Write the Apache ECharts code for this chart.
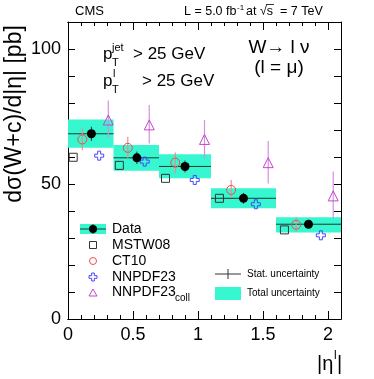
<!DOCTYPE html>
<html>
<head>
<meta charset="utf-8">
<script src="https://cdn.jsdelivr.net/npm/echarts@6/dist/echarts.min.js"></script>
<style>
  html, body { margin: 0; padding: 0; background: #fff; }
  #main { width: 374px; height: 379px; }
</style>
</head>
<body>
<div id="main"></div>
<script>
// |eta| bins
var binLo = [0, 0.35, 0.7, 1.1, 1.6];
var binHi = [0.35, 0.7, 1.1, 1.6, 2.1];
// data with stat and total uncertainty
var dataX = [0.18, 0.53, 0.90, 1.35, 1.85];
var dataY = [68.6, 59.7, 56.5, 44.7, 35.1];
var statErr = [2.6, 2.3, 2.2, 2.0, 1.6];
var totLo = [63.4, 54.9, 52.1, 41.0, 32.0];
var totHi = [73.9, 64.4, 61.0, 48.4, 37.7];
// predictions
var mstwX = [0.04, 0.395, 0.75, 1.165, 1.665];
var mstwY = [59.9, 56.9, 52.1, 44.7, 33.0];
var ct10X = [0.11, 0.46, 0.825, 1.255, 1.755];
var ct10Y = [66.5, 63.4, 57.9, 47.8, 34.9];
var ct10Lo = [62.6, 59.5, 54.0, 45.0, 32.3];
var ct10Hi = [70.6, 67.5, 61.7, 51.5, 37.7];
var nnX = [0.24, 0.59, 0.975, 1.445, 1.945];
var nnY = [60.5, 58.3, 51.5, 42.5, 31.0];
var collX = [0.31, 0.625, 1.05, 1.54, 2.04];
var collY = [73.7, 71.9, 66.5, 57.9, 45.6];
var collLo = [67.0, 65.0, 59.5, 50.2, 37.3];
var collHi = [80.9, 79.3, 73.7, 65.9, 54.6];
// tick labels
var xTicks = [0, 0.5, 1, 1.5, 2];
var yTicks = [0, 50, 100];

var FONT = 'Liberation Sans, Arial, Helvetica, sans-serif';
var TEAL = '#36f7cf';
var PLUS = 'path://M3,0L6,0L6,3L9,3L9,6L6,6L6,9L3,9L3,6L0,6L0,3L3,3Z';

function zip(a, b) {
    return a.map(function (v, i) { return [v, b[i]]; });
}

// plus outline as polygon points (legend)
function plusPts(cx, cy, s) {
    var a = s / 6, b = s / 2;
    return [[cx - a, cy - b], [cx + a, cy - b], [cx + a, cy - a], [cx + b, cy - a], [cx + b, cy + a], [cx + a, cy + a],
        [cx + a, cy + b], [cx - a, cy + b], [cx - a, cy + a], [cx - b, cy + a], [cx - b, cy - a], [cx - a, cy - a]];
}

// total uncertainty boxes
function renderBox(params, api) {
    var p1 = api.coord([api.value(0), api.value(3)]);
    var p2 = api.coord([api.value(1), api.value(2)]);
    return {
        type: 'rect',
        shape: { x: p1[0], y: p1[1], width: p2[0] - p1[0], height: p2[1] - p1[1] },
        style: { fill: TEAL }
    };
}

// stat error: horizontal across the bin + vertical
function renderStat(params, api) {
    var y = api.value(2);
    var a = api.coord([api.value(0), y]);
    var b = api.coord([api.value(1), y]);
    var c = api.coord([api.value(4), y + api.value(3)]);
    var d = api.coord([api.value(4), y - api.value(3)]);
    var st = { stroke: '#1a3a30', lineWidth: 1 };
    return {
        type: 'group',
        children: [
            { type: 'line', shape: { x1: a[0], y1: a[1], x2: b[0], y2: b[1] }, style: st },
            { type: 'line', shape: { x1: c[0], y1: c[1], x2: d[0], y2: d[1] }, style: st }
        ]
    };
}

function errBar(color) {
    return function (params, api) {
        var a = api.coord([api.value(0), api.value(1)]);
        var b = api.coord([api.value(0), api.value(2)]);
        return {
            type: 'line',
            shape: { x1: a[0], y1: a[1], x2: b[0], y2: b[1] },
            style: { stroke: color, lineWidth: 1.2 }
        };
    };
}

function txt(x, y, s, size, align) {
    return {
        type: 'text', x: x, y: y, z: 100,
        style: { text: s, font: size + 'px ' + FONT, fill: '#000', textAlign: align || 'left', textVerticalAlign: 'middle' }
    };
}

function axisX(pos, interval, len, showLabel) {
    return {
        type: 'value', position: pos, min: 0, max: 2.1, interval: interval,
        axisLine: { show: true, onZero: false, lineStyle: { color: '#000', width: 1 } },
        axisTick: { inside: true, length: len, lineStyle: { color: '#000' } },
        axisLabel: {
            show: showLabel, color: '#000', fontSize: 18, fontFamily: FONT, margin: 7,
            showMaxLabel: false,
            formatter: function (v) { return xTicks.indexOf(v) >= 0 ? String(v) : ''; }
        },
        splitLine: { show: false }
    };
}

function axisY(pos, showLabel) {
    return {
        type: 'value', position: pos, min: 0, max: 110, interval: 10,
        axisLine: { show: true, onZero: false, lineStyle: { color: '#000', width: 1 } },
        axisTick: { inside: true, length: 7, lineStyle: { color: '#000' } },
        axisLabel: {
            show: showLabel, color: '#000', fontSize: 18, fontFamily: FONT, margin: 7,
            formatter: function (v) { return yTicks.indexOf(v) >= 0 ? String(v) : ''; }
        },
        splitLine: { show: false }
    };
}

var myChart = echarts.init(document.getElementById('main'));

var boxData = binLo.map(function (v, i) { return [v, binHi[i], totLo[i], totHi[i]]; });
var statData = binLo.map(function (v, i) { return [v, binHi[i], dataY[i], statErr[i], dataX[i]]; });
var ct10Err = ct10X.map(function (v, i) { return [v, ct10Lo[i], ct10Hi[i]]; });
var collErr = collX.map(function (v, i) { return [v, collLo[i], collHi[i]]; });

var option = {
    animation: false,
    backgroundColor: '#fff',
    grid: { left: 68, right: 33, top: 22, bottom: 60 },
    xAxis: [
        axisX('bottom', 0.5, 8, true),
        axisX('bottom', 0.1, 4, false),
        axisX('top', 0.5, 8, false),
        axisX('top', 0.1, 4, false)
    ],
    yAxis: [axisY('left', true), axisY('right', false)],
    series: [
        { type: 'custom', renderItem: renderBox, data: boxData, clip: true, z: 1, encode: { x: [0, 1], y: [2, 3] } },
        { type: 'custom', renderItem: renderStat, data: statData, z: 2, encode: { x: [0, 1], y: 2 } },
        { type: 'custom', renderItem: errBar('#f08a8a'), data: ct10Err, z: 2, encode: { x: 0, y: [1, 2] } },
        { type: 'custom', renderItem: errBar('#d58fe0'), data: collErr, z: 2, encode: { x: 0, y: [1, 2] } },
        {
            name: 'MSTW08', type: 'scatter', data: zip(mstwX, mstwY), symbol: 'rect', symbolSize: 8, z: 3,
            itemStyle: { color: 'rgba(0,0,0,0)', borderColor: '#333', borderWidth: 1, opacity: 1 }
        },
        {
            name: 'CT10', type: 'scatter', data: zip(ct10X, ct10Y), symbol: 'circle', symbolSize: 9, z: 3,
            itemStyle: { color: 'rgba(0,0,0,0)', borderColor: '#ee4c4c', borderWidth: 1, opacity: 1 }
        },
        {
            name: 'NNPDF23', type: 'scatter', data: zip(nnX, nnY), symbol: PLUS, symbolSize: 9, z: 3,
            itemStyle: { color: 'rgba(0,0,0,0)', borderColor: '#4646ff', borderWidth: 1, opacity: 1 }
        },
        {
            name: 'NNPDF23coll', type: 'scatter', data: zip(collX, collY), symbol: 'triangle', symbolSize: 10, z: 3,
            itemStyle: { color: 'rgba(0,0,0,0)', borderColor: '#c844cc', borderWidth: 1, opacity: 1 }
        },
        {
            name: 'Data', type: 'scatter', data: zip(dataX, dataY), symbol: 'circle', symbolSize: 9, z: 4,
            itemStyle: { color: '#000', opacity: 1 }
        }
    ],
    graphic: [
        // header
        txt(75, 11, 'CMS', 13, 'left'),
        txt(184, 12, 'L = 5.0 fb', 12.5),
        txt(237, 8, '-1', 8),
        txt(246, 12, 'at', 12.5),
        txt(260, 12, '√s', 12.5),
        txt(280, 12, '= 7 TeV', 12.5),
        { type: 'line', z: 100, shape: { x1: 266, y1: 4.5, x2: 274, y2: 4.5 }, style: { stroke: '#000', lineWidth: 0.8 } },
        // kinematic cuts
        txt(103, 54, 'p', 17), txt(112, 48, 'jet', 11), txt(112, 63, 'T', 11), txt(133, 54, '> 25 GeV', 17),
        txt(103, 81, 'p', 17), txt(113, 74, 'l', 11), txt(112, 90, 'T', 11), txt(142, 81, '> 25 GeV', 17),
        // channel
        txt(279, 48, 'W→ l ν', 19, 'center'),
        txt(279, 68, '(l = μ)', 19, 'center'),
        // y axis title
        {
            type: 'text', x: 15, y: 114, rotation: Math.PI / 2, z: 100,
            style: { text: 'dσ(W+c)/d|η| [pb]', font: '23px ' + FONT, fill: '#000', textAlign: 'center', textVerticalAlign: 'middle' }
        },
        // x axis title
        txt(317, 364, '|η', 20), txt(334, 356, 'l', 12), txt(337, 364, '|', 20),
        // legend: Data
        { type: 'rect', z: 100, shape: { x: 80, y: 224, width: 26, height: 10 }, style: { fill: TEAL } },
        { type: 'line', z: 100, shape: { x1: 80, y1: 229, x2: 106, y2: 229 }, style: { stroke: '#1a3a30', lineWidth: 1 } },
        { type: 'line', z: 100, shape: { x1: 93, y1: 224, x2: 93, y2: 234 }, style: { stroke: '#1a3a30', lineWidth: 1 } },
        { type: 'circle', z: 101, shape: { cx: 93, cy: 229, r: 4 }, style: { fill: '#000' } },
        txt(112, 229, 'Data', 14),
        { type: 'rect', z: 100, shape: { x: 89.5, y: 241.5, width: 7, height: 7 }, style: { fill: 'none', stroke: '#333', lineWidth: 1 } },
        txt(112, 245, 'MSTW08', 14),
        { type: 'circle', z: 100, shape: { cx: 93, cy: 261, r: 3.5 }, style: { fill: 'none', stroke: '#ee4c4c', lineWidth: 1 } },
        txt(112, 261, 'CT10', 14),
        { type: 'polygon', z: 100, shape: { points: plusPts(93, 277, 8) }, style: { fill: 'none', stroke: '#4646ff', lineWidth: 1 } },
        txt(112, 277, 'NNPDF23', 14),
        { type: 'polygon', z: 100, shape: { points: [[93, 289], [97, 296], [89, 296]] }, style: { fill: 'none', stroke: '#c844cc', lineWidth: 1 } },
        txt(112, 292, 'NNPDF23', 14), txt(175, 298, 'coll', 10),
        // legend: uncertainties
        { type: 'line', z: 100, shape: { x1: 215, y1: 274, x2: 241, y2: 274 }, style: { stroke: '#333', lineWidth: 1 } },
        { type: 'line', z: 100, shape: { x1: 228, y1: 269, x2: 228, y2: 279 }, style: { stroke: '#333', lineWidth: 1 } },
        txt(247, 274, 'Stat. uncertainty', 10),
        { type: 'rect', z: 100, shape: { x: 215, y: 287, width: 26, height: 13 }, style: { fill: TEAL } },
        txt(247, 293, 'Total uncertainty', 10)
    ]
};

myChart.setOption(option);
</script>
</body>
</html>
